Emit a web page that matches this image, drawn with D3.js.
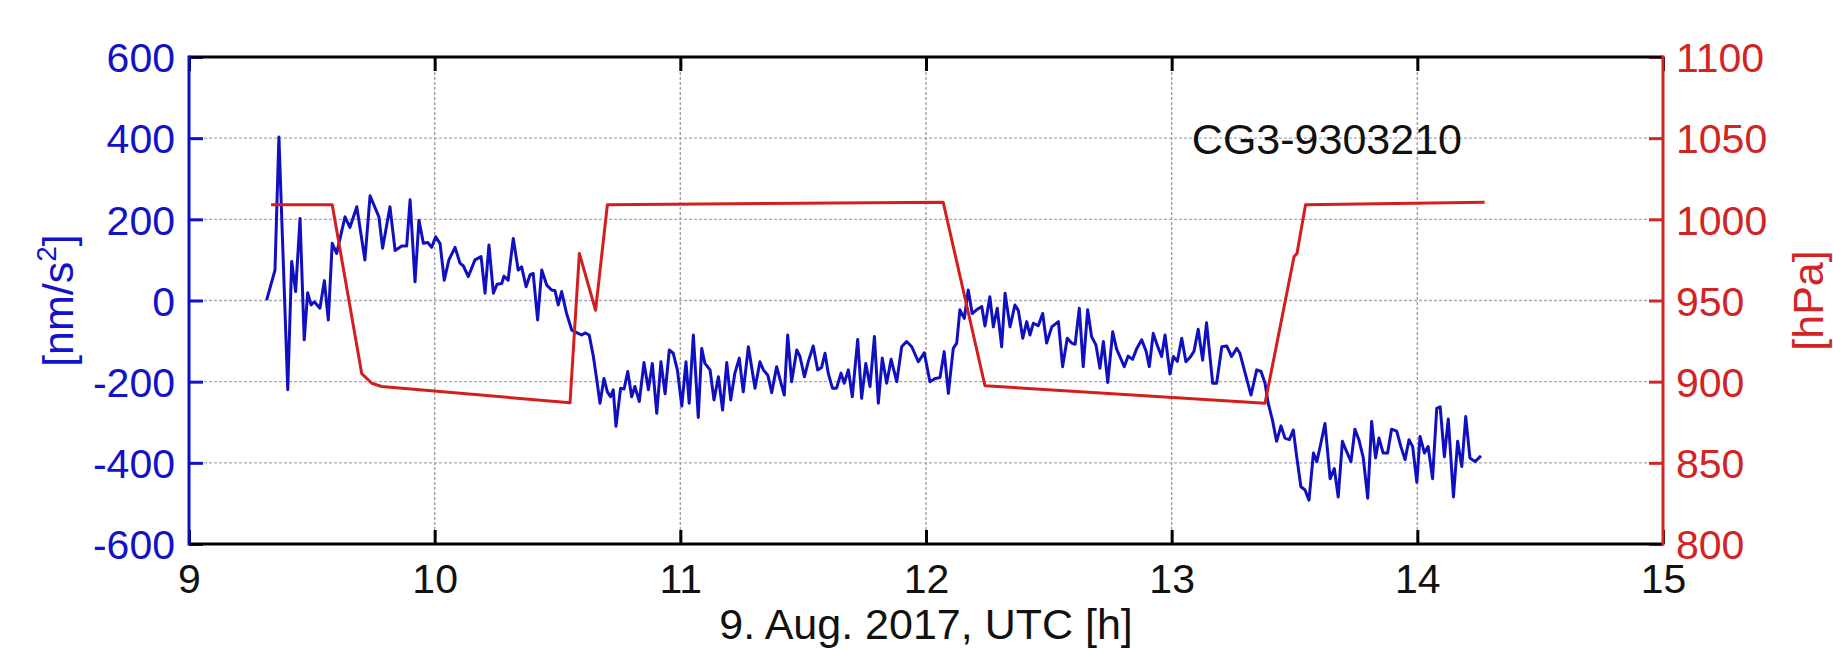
<!DOCTYPE html>
<html>
<head>
<meta charset="utf-8">
<script src="https://cdn.jsdelivr.net/npm/d3@7"></script>
<style>
  html, body { margin: 0; padding: 0; background: #ffffff; }
  svg { display: block; font-family: "Liberation Sans", Arial, Helvetica, sans-serif; }
</style>
</head>
<body>
<svg id="chart" width="1833" height="649"></svg>
<script>
// ---- data ----
const gravTime = [9.316,9.350,9.366,9.402,9.418,9.434,9.452,9.469,9.483,9.497,9.510,9.533,9.551,9.567,9.583,9.601,9.635,9.655,9.683,9.716,9.737,9.773,9.788,9.818,9.839,9.866,9.886,9.900,9.920,9.936,9.954,9.972,9.988,10.004,10.022,10.039,10.058,10.083,10.103,10.117,10.137,10.164,10.189,10.205,10.221,10.239,10.254,10.273,10.282,10.299,10.320,10.340,10.354,10.372,10.388,10.401,10.419,10.436,10.456,10.476,10.490,10.503,10.517,10.537,10.558,10.578,10.598,10.612,10.629,10.646,10.660,10.673,10.689,10.703,10.716,10.727,10.738,10.757,10.771,10.786,10.802,10.815,10.833,10.852,10.870,10.886,10.904,10.921,10.938,10.955,10.971,10.988,11.006,11.023,11.036,11.053,11.073,11.087,11.100,11.121,11.137,11.155,11.172,11.189,11.205,11.222,11.240,11.256,11.277,11.304,11.324,11.338,11.356,11.372,11.392,11.410,11.423,11.437,11.453,11.474,11.487,11.505,11.521,11.541,11.559,11.575,11.589,11.602,11.619,11.636,11.654,11.667,11.684,11.700,11.722,11.738,11.755,11.772,11.790,11.806,11.822,11.840,11.858,11.881,11.901,11.921,11.942,11.969,11.993,12.016,12.037,12.057,12.074,12.091,12.111,12.125,12.138,12.156,12.172,12.188,12.206,12.227,12.240,12.260,12.274,12.290,12.308,12.322,12.342,12.362,12.376,12.394,12.410,12.423,12.437,12.457,12.475,12.491,12.512,12.539,12.556,12.575,12.593,12.607,12.624,12.640,12.658,12.674,12.692,12.708,12.722,12.740,12.760,12.776,12.792,12.807,12.823,12.841,12.858,12.878,12.896,12.909,12.925,12.941,12.959,12.973,12.993,13.007,13.023,13.041,13.058,13.075,13.091,13.108,13.126,13.142,13.167,13.183,13.204,13.224,13.244,13.265,13.278,13.299,13.323,13.346,13.364,13.380,13.393,13.410,13.427,13.445,13.461,13.479,13.495,13.509,13.526,13.543,13.559,13.577,13.591,13.608,13.624,13.645,13.662,13.678,13.695,13.712,13.730,13.746,13.762,13.780,13.798,13.814,13.830,13.844,13.861,13.879,13.895,13.916,13.933,13.950,13.966,13.981,13.998,14.011,14.029,14.044,14.062,14.079,14.093,14.110,14.126,14.147,14.164,14.181,14.197,14.214,14.235,14.259];
const gravValues = [1,75,403,-220,96,22,202,-97,19,-11,-3,-19,49,-48,141,116,206,180,231,100,258,206,129,231,123,134,134,248,46,198,141,143,131,157,140,50,100,131,92,85,59,100,108,18,137,18,40,42,60,50,153,75,83,34,63,67,-48,75,38,26,24,-11,22,-32,-73,-79,-85,-80,-85,-138,-196,-253,-192,-225,-237,-220,-310,-216,-218,-175,-237,-212,-249,-153,-220,-155,-278,-151,-230,-122,-130,-171,-260,-151,-253,-85,-288,-118,-155,-171,-245,-188,-270,-153,-245,-179,-142,-225,-114,-216,-151,-171,-184,-227,-163,-204,-233,-85,-200,-122,-138,-188,-150,-112,-171,-165,-130,-179,-216,-216,-179,-204,-171,-237,-96,-241,-155,-212,-89,-253,-142,-204,-145,-200,-114,-101,-114,-151,-129,-200,-192,-190,-126,-229,-118,-105,-23,-44,26,-32,-23,-15,-63,9,-65,-19,-114,18,-65,-11,-25,-93,-52,-85,-56,-62,-32,-105,-65,-52,-163,-93,-105,-108,-19,-163,-23,-89,-110,-167,-101,-202,-77,-120,-142,-163,-137,-145,-118,-97,-125,-163,-81,-110,-138,-85,-181,-138,-150,-93,-151,-140,-125,-71,-147,-55,-204,-204,-114,-112,-138,-118,-130,-179,-233,-171,-175,-204,-253,-294,-347,-309,-339,-343,-319,-385,-459,-467,-492,-376,-397,-350,-303,-439,-414,-484,-347,-372,-397,-317,-343,-388,-487,-298,-388,-339,-376,-376,-317,-322,-360,-392,-343,-360,-448,-335,-376,-360,-439,-266,-262,-385,-292,-484,-347,-409,-286,-388,-397,-383];

const presTime = [9.334,9.583,9.703,9.744,9.784,10.551,10.589,10.655,10.703,12.070,12.240,13.380,13.498,13.510,13.545,14.274];
const presValues = [1009,1009,905,899,897,887,979,944,1009,1010.5,897.5,886.7,977,979,1009,1010.5];

const xTicks = [9,10,11,12,13,14,15];
const leftTicks = [-600,-400,-200,0,200,400,600];
const rightTicks = [800,850,900,950,1000,1050,1100];

const stationLabel = "CG3-9303210";
const xLabel = "9. Aug. 2017, UTC [h]";

// ---- layout ----
const L = 189, R = 1663, T = 57, B = 544;
const BLUE = "#1212c8", RED = "#d22424", LINEBLUE = "#1010c0", LINERED = "#d41e1e";
const FS = 41;

const svg = d3.select("#chart");
const x = d3.scaleLinear().domain([9, 15]).range([L, R]);
const yL = d3.scaleLinear().domain([-600, 600]).range([B, T]);
const yR = d3.scaleLinear().domain([800, 1100]).range([B, T]);

// grid
const grid = svg.append("g");
grid.selectAll("line.gx").data(xTicks.filter(d => d > 9 && d < 15)).join("line")
  .attr("x1", d => x(d)).attr("x2", d => x(d)).attr("y1", T).attr("y2", B)
  .attr("stroke", "#a0a0a0").attr("stroke-width", 1.4).attr("stroke-dasharray", "3,2");
grid.selectAll("line.gy").data(leftTicks.filter(d => d > -600 && d < 600)).join("line")
  .attr("x1", L).attr("x2", R).attr("y1", d => yL(d)).attr("y2", d => yL(d))
  .attr("stroke", "#a8a8bc").attr("stroke-width", 1.4).attr("stroke-dasharray", "3,2");

// clip
svg.append("clipPath").attr("id", "clip").append("rect")
  .attr("x", L).attr("y", T).attr("width", R - L).attr("height", B - T);

const gravLine = d3.line().x((d, i) => x(gravTime[i])).y(d => yL(d));
const presLine = d3.line().x((d, i) => x(presTime[i])).y(d => yR(d));

svg.append("path").datum(gravValues).attr("clip-path", "url(#clip)")
  .attr("d", gravLine).attr("fill", "none").attr("stroke", LINEBLUE)
  .attr("stroke-width", 3).attr("stroke-linejoin", "round");
svg.append("path").datum(presValues).attr("clip-path", "url(#clip)")
  .attr("d", presLine).attr("fill", "none").attr("stroke", LINERED)
  .attr("stroke-width", 3).attr("stroke-linejoin", "round");

// axes
const fmt = d => String(d);
function styleAxis(g, color, labelColor) {
  g.select(".domain").remove();
  g.selectAll(".tick line").attr("stroke", color).attr("stroke-width", 3);
  g.selectAll(".tick text").attr("fill", labelColor).attr("font-size", FS)
    .attr("font-family", '"Liberation Sans", Arial, sans-serif');
}

const axB = svg.append("g").attr("transform", `translate(0,${B})`)
  .call(d3.axisBottom(x).tickValues(xTicks).tickFormat(fmt).tickSize(-14).tickPadding(20));
styleAxis(axB, "#000", "#111");
const axT = svg.append("g").attr("transform", `translate(0,${T})`)
  .call(d3.axisTop(x).tickValues(xTicks).tickFormat("").tickSize(-14));
styleAxis(axT, "#000", "#111");
const axL = svg.append("g").attr("transform", `translate(${L},0)`)
  .call(d3.axisLeft(yL).tickValues(leftTicks).tickFormat(fmt).tickSize(-14).tickPadding(14));
styleAxis(axL, BLUE, BLUE);
axL.selectAll(".tick text").attr("dy", "0.36em");
const axR = svg.append("g").attr("transform", `translate(${R},0)`)
  .call(d3.axisRight(yR).tickValues(rightTicks).tickFormat(fmt).tickSize(-14).tickPadding(13));
styleAxis(axR, RED, RED);
axR.selectAll(".tick text").attr("dy", "0.36em");

// axis frame lines
svg.append("line").attr("x1", L).attr("x2", R).attr("y1", T).attr("y2", T).attr("stroke", "#000").attr("stroke-width", 3);
svg.append("line").attr("x1", L).attr("x2", R).attr("y1", B).attr("y2", B).attr("stroke", "#000").attr("stroke-width", 3);
svg.append("line").attr("x1", L).attr("x2", L).attr("y1", T - 1.5).attr("y2", B + 1.5).attr("stroke", "#0c0cc8").attr("stroke-width", 3);
svg.append("line").attr("x1", R).attr("x2", R).attr("y1", T - 1.5).attr("y2", B + 1.5).attr("stroke", RED).attr("stroke-width", 3);

// labels
svg.append("text").attr("x", 1462).attr("y", 154).attr("text-anchor", "end")
  .attr("font-size", 43).attr("fill", "#111").text(stationLabel);

svg.append("text").attr("x", (L + R) / 2).attr("y", 639).attr("text-anchor", "middle")
  .attr("font-size", 43).attr("fill", "#111").text(xLabel);

const yl = svg.append("text").attr("transform", `translate(73,${(T + B) / 2}) rotate(-90)`)
  .attr("text-anchor", "middle").attr("font-size", 43).attr("fill", BLUE);
yl.append("tspan").text("[nm/s");
yl.append("tspan").attr("font-size", 28).attr("dy", -17).text("2");
yl.append("tspan").attr("dy", 17).text("]");

svg.append("text").attr("transform", `translate(1823,${(T + B) / 2}) rotate(-90)`)
  .attr("text-anchor", "middle").attr("font-size", 43).attr("fill", RED).text("[hPa]");
</script>
</body>
</html>
